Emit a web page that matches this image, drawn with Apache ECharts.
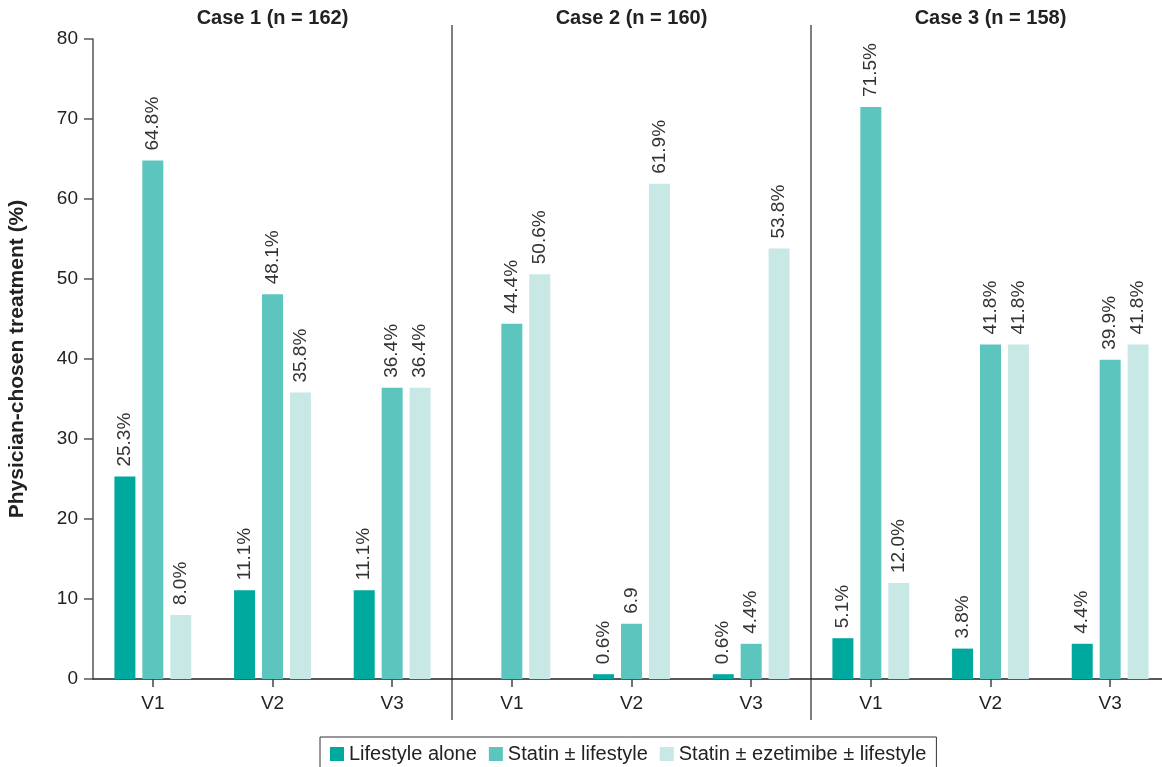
<!DOCTYPE html>
<html>
<head>
<meta charset="utf-8">
<script src="https://cdn.jsdelivr.net/npm/echarts@6/dist/echarts.min.js"></script>
<style>
html,body{margin:0;padding:0;background:#fff;}
#chart{width:1162px;height:767px;}
</style>
</head>
<body>
<div id="chart"></div>
<script>
const cases = ['Case 1 (n = 162)', 'Case 2 (n = 160)', 'Case 3 (n = 158)'];
const visits = ['V1', 'V2', 'V3'];
const seriesNames = ['Lifestyle alone', 'Statin \u00b1 lifestyle', 'Statin \u00b1 ezetimibe \u00b1 lifestyle'];
const lifestyleAlone = [25.3, 11.1, 11.1, 0, 0.6, 0.6, 5.1, 3.8, 4.4];
const statinLifestyle = [64.8, 48.1, 36.4, 44.4, 6.9, 4.4, 71.5, 41.8, 39.9];
const statinEzetimibe = [8.0, 35.8, 36.4, 50.6, 61.9, 53.8, 12.0, 41.8, 41.8];
const lifestyleLabels = ['25.3%', '11.1%', '11.1%', '', '0.6%', '0.6%', '5.1%', '3.8%', '4.4%'];
const statinLabels = ['64.8%', '48.1%', '36.4%', '44.4%', '6.9', '4.4%', '71.5%', '41.8%', '39.9%'];
const ezetimibeLabels = ['8.0%', '35.8%', '36.4%', '50.6%', '61.9%', '53.8%', '12.0%', '41.8%', '41.8%'];
const yTicks = { min: 0, max: 80, interval: 10 };

const colors = ['#00A99D', '#5CC5BD', '#C8E8E6'];
const FONT = 'Liberation Sans, Arial, Helvetica, sans-serif';

const categories = [];
cases.forEach((c, ci) => visits.forEach(v => categories.push(ci + '|' + v)));

const chart = echarts.init(document.getElementById('chart'), null, { renderer: 'canvas' });

function mkSeries(name, data, labels, color) {
  return {
    name: name,
    type: 'bar',
    data: data,
    barWidth: 21,
    barGap: '33%',
    itemStyle: { color: color },
    label: {
      show: true,
      position: 'top',
      rotate: 90,
      align: 'left',
      verticalAlign: 'middle',
      distance: 10,
      color: '#333',
      fontFamily: FONT,
      fontSize: 19,
      formatter: p => labels[p.dataIndex]
    }
  };
}

const option = {
  animation: false,
  textStyle: { fontFamily: FONT },
  grid: { left: 93, width: 1077, top: 39, bottom: 88, containLabel: false, outerBoundsMode: 'none' },
  legend: {
    left: 320,
    top: 737,
    padding: [7, 10, 9, 10],
    itemWidth: 14,
    itemHeight: 14,
    itemGap: 12,
    borderColor: '#333',
    borderWidth: 1,
    icon: 'rect',
    textStyle: { fontFamily: FONT, fontSize: 20, color: '#222' },
    data: seriesNames
  },
  xAxis: {
    type: 'category',
    data: categories,
    axisLine: { lineStyle: { color: '#222', width: 1.5 } },
    axisTick: { show: true, alignWithLabel: true, length: 8, lineStyle: { color: '#444', width: 1.5 } },
    axisLabel: {
      interval: 0,
      margin: 15,
      color: '#222',
      fontFamily: FONT,
      fontSize: 19,
      formatter: v => v.split('|')[1]
    }
  },
  yAxis: {
    type: 'value',
    min: yTicks.min,
    max: yTicks.max,
    interval: yTicks.interval,
    name: 'Physician-chosen treatment (%)',
    nameLocation: 'middle',
    nameGap: 65,
    nameTextStyle: { fontFamily: FONT, fontSize: 21, fontWeight: 'bold', color: '#222' },
    axisLine: { show: true, lineStyle: { color: '#555', width: 1.5 } },
    axisTick: { show: true, length: 9, lineStyle: { color: '#555', width: 1.5 } },
    splitLine: { show: false },
    axisLabel: { margin: 15, color: '#222', fontFamily: FONT, fontSize: 19 }
  },
  series: [
    mkSeries(seriesNames[0], lifestyleAlone, lifestyleLabels, colors[0]),
    mkSeries(seriesNames[1], statinLifestyle, statinLabels, colors[1]),
    mkSeries(seriesNames[2], statinEzetimibe, ezetimibeLabels, colors[2])
  ]
};

chart.setOption(option);

function px(i) { return chart.convertToPixel({ xAxisIndex: 0 }, i); }
const graphics = [];
for (let k = 1; k < cases.length; k++) {
  const x = (px(k * 3 - 1) + px(k * 3)) / 2;
  graphics.push({
    type: 'line',
    shape: { x1: x, y1: 25, x2: x, y2: 720 },
    style: { stroke: '#555', lineWidth: 1.5 },
    silent: true
  });
}
cases.forEach((c, ci) => {
  graphics.push({
    type: 'text',
    x: px(ci * 3 + 1),
    y: 18,
    style: {
      text: c,
      fontFamily: FONT,
      fontSize: 20,
      fontWeight: 'bold',
      fill: '#222',
      align: 'center',
      verticalAlign: 'middle'
    },
    silent: true
  });
});
chart.setOption({ graphic: graphics });
</script>
</body>
</html>
